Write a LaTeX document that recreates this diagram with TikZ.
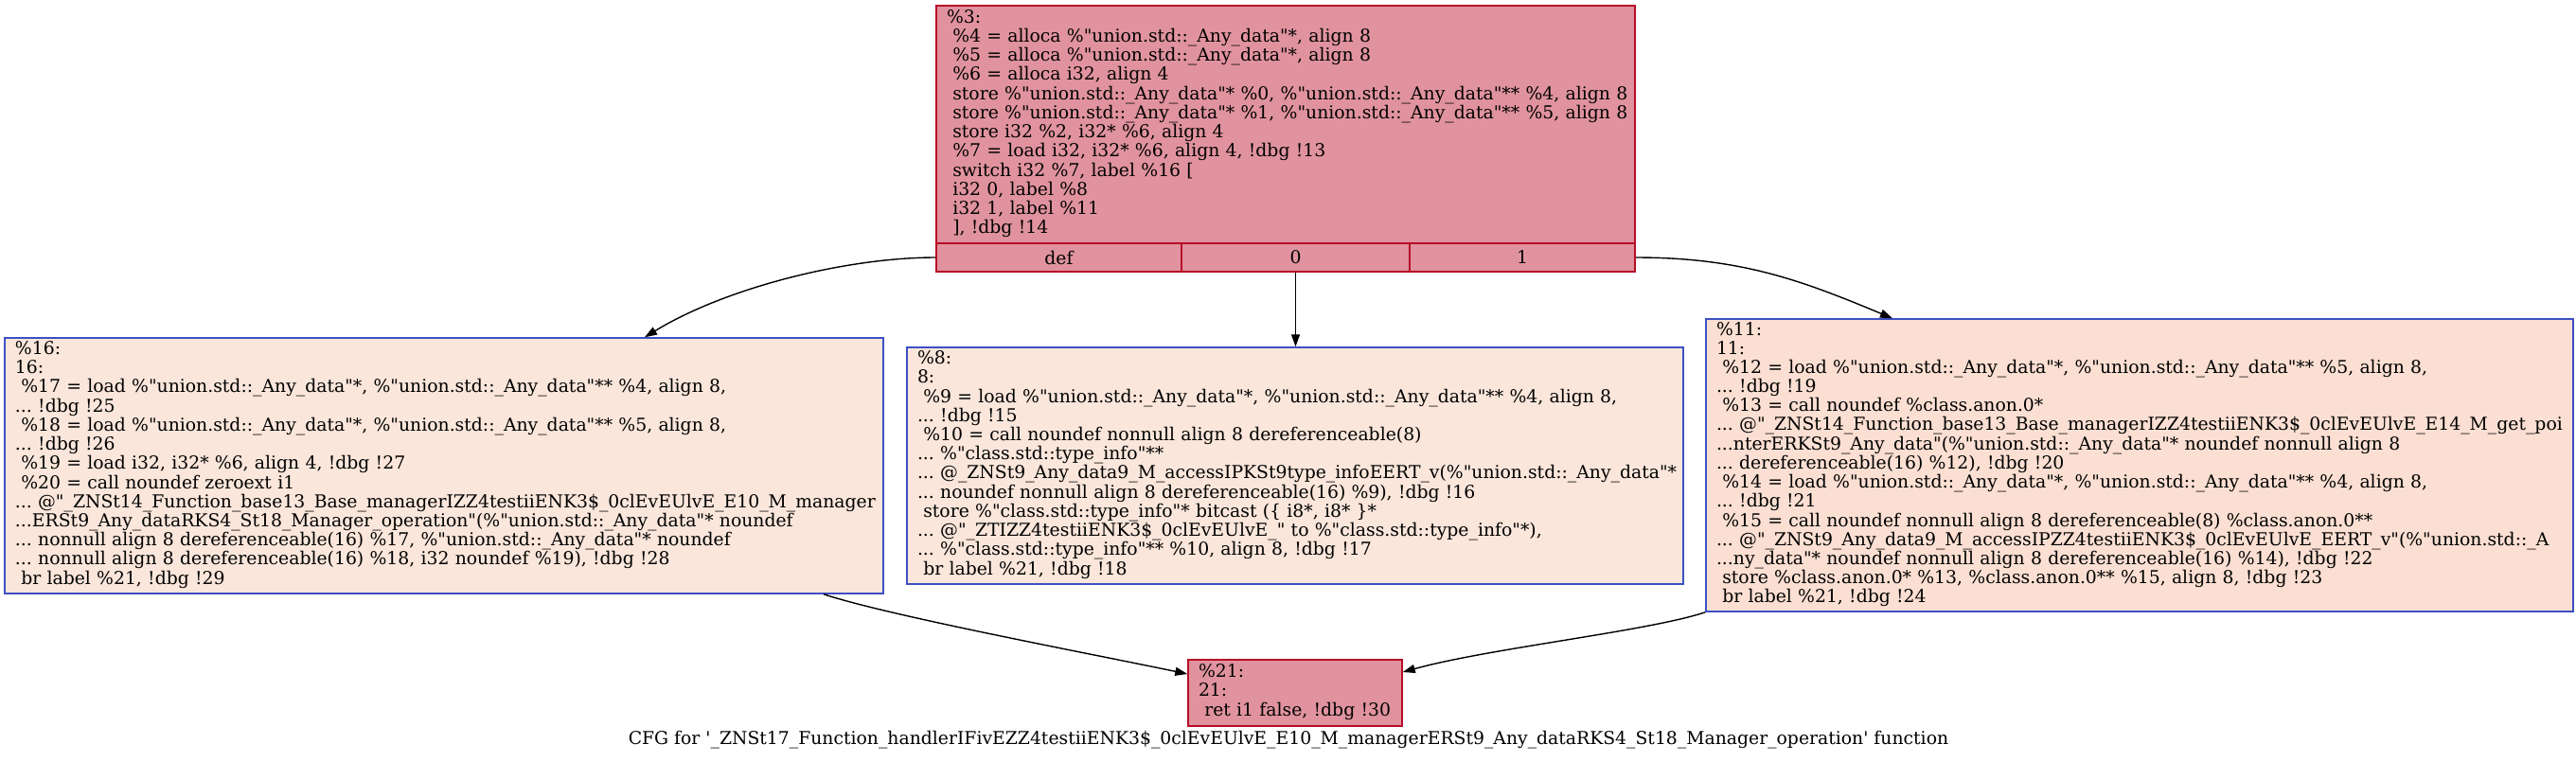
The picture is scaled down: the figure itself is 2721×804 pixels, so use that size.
\documentclass[tikz,border=0pt]{standalone}
\usepackage{fontspec}
\setmainfont{DejaVu Serif}
\usetikzlibrary{arrows.meta}

\definecolor{hotfill}{HTML}{E0939E}
\definecolor{hotline}{HTML}{B70D28}
\definecolor{coolfill}{HTML}{FAE6DB}
\definecolor{warmfill}{HTML}{FBDFD2}
\definecolor{coolline}{HTML}{3D50C3}

\newcommand{\cfgfont}{\fontsize{9.4pt}{9.9pt}\selectfont\frenchspacing}
\newcommand{\cfgtab}[1]{\noindent\begin{tabular}{@{}l@{}}#1\end{tabular}}
\newcommand{\dqt}{\textquotedbl}

\tikzset{
  blk/.style={draw, line width=0.75pt, inner xsep=5.5pt, inner ysep=0pt, align=left, font=\cfgfont},
  hot/.style={blk, fill=hotfill, draw=hotline},
  cool/.style={blk, fill=coolfill, draw=coolline},
  warm/.style={blk, fill=warmfill, draw=coolline},
  fld/.style={hot, align=center, inner xsep=0pt, minimum height=15pt},
  cfg/.style={-{Triangle[length=6.5pt,width=4.5pt]}, line width=0.7pt},
}

\begin{document}
\begin{tikzpicture}[x=0.5pt,y=-0.5pt]
  \useasboundingbox (0,0) rectangle (2721,804);

  \node[hot, text width=358pt, minimum height=125.5pt] (b3) at (1358,131.5) {\cfgtab{%
\%3:\\
\ \%4 = alloca \%\dqt union.std::\_Any\_data\dqt*, align 8\\
\ \%5 = alloca \%\dqt union.std::\_Any\_data\dqt*, align 8\\
\ \%6 = alloca i32, align 4\\
\ store \%\dqt union.std::\_Any\_data\dqt* \%0, \%\dqt union.std::\_Any\_data\dqt** \%4, align 8\\
\ store \%\dqt union.std::\_Any\_data\dqt* \%1, \%\dqt union.std::\_Any\_data\dqt** \%5, align 8\\
\ store i32 \%2, i32* \%6, align 4\\
\ \%7 = load i32, i32* \%6, align 4, !dbg !13\\
\ switch i32 \%7, label \%16 [\\
\ i32 0, label \%8\\
\ i32 1, label \%11\\
\ ], !dbg !14}};
  \node[fld, minimum width=129.5pt] (b3def) at (1118.5,272) {def};
  \node[fld, minimum width=120.5pt] (b3zero) at (1368.5,272) {0};
  \node[fld, minimum width=119pt] (b3one) at (1608,272) {1};

  \node[cool, text width=453pt, minimum height=135pt] (b16) at (469,492) {\cfgtab{%
\%16:\\
16:\\
\ \%17 = load \%\dqt union.std::\_Any\_data\dqt*, \%\dqt union.std::\_Any\_data\dqt** \%4, align 8,\\
... !dbg !25\\
\ \%18 = load \%\dqt union.std::\_Any\_data\dqt*, \%\dqt union.std::\_Any\_data\dqt** \%5, align 8,\\
... !dbg !26\\
\ \%19 = load i32, i32* \%6, align 4, !dbg !27\\
\ \%20 = call noundef zeroext i1\\
... @\dqt\_ZNSt14\_Function\_base13\_Base\_managerIZZ4testiiENK3\$\_0clEvEUlvE\_E10\_M\_manager\\
...ERSt9\_Any\_dataRKS4\_St18\_Manager\_operation\dqt(\%\dqt union.std::\_Any\_data\dqt* noundef\\
... nonnull align 8 dereferenceable(16) \%17, \%\dqt union.std::\_Any\_data\dqt* noundef\\
... nonnull align 8 dereferenceable(16) \%18, i32 noundef \%19), !dbg !28\\
\ br label \%21, !dbg !29}};

  \node[cool, text width=399pt, minimum height=125pt] (b8) at (1368,492) {\cfgtab{%
\%8:\\
8:\\
\ \%9 = load \%\dqt union.std::\_Any\_data\dqt*, \%\dqt union.std::\_Any\_data\dqt** \%4, align 8,\\
... !dbg !15\\
\ \%10 = call noundef nonnull align 8 dereferenceable(8)\\
... \%\dqt class.std::type\_info\dqt**\\
... @\_ZNSt9\_Any\_data9\_M\_accessIPKSt9type\_infoEERT\_v(\%\dqt union.std::\_Any\_data\dqt*\\
... noundef nonnull align 8 dereferenceable(16) \%9), !dbg !16\\
\ store \%\dqt class.std::type\_info\dqt* bitcast (\{ i8*, i8* \}*\\
... @\dqt\_ZTIZZ4testiiENK3\$\_0clEvEUlvE\_\dqt{} to \%\dqt class.std::type\_info\dqt*),\\
... \%\dqt class.std::type\_info\dqt** \%10, align 8, !dbg !17\\
\ br label \%21, !dbg !18}};

  \node[warm, text width=447pt, minimum height=154.5pt] (b11) at (2260,491.5) {\cfgtab{%
\%11:\\
11:\\
\ \%12 = load \%\dqt union.std::\_Any\_data\dqt*, \%\dqt union.std::\_Any\_data\dqt** \%5, align 8,\\
... !dbg !19\\
\ \%13 = call noundef \%class.anon.0*\\
... @\dqt\_ZNSt14\_Function\_base13\_Base\_managerIZZ4testiiENK3\$\_0clEvEUlvE\_E14\_M\_get\_poi\\
...nterERKSt9\_Any\_data\dqt(\%\dqt union.std::\_Any\_data\dqt* noundef nonnull align 8\\
... dereferenceable(16) \%12), !dbg !20\\
\ \%14 = load \%\dqt union.std::\_Any\_data\dqt*, \%\dqt union.std::\_Any\_data\dqt** \%4, align 8,\\
... !dbg !21\\
\ \%15 = call noundef nonnull align 8 dereferenceable(8) \%class.anon.0**\\
... @\dqt\_ZNSt9\_Any\_data9\_M\_accessIPZZ4testiiENK3\$\_0clEvEUlvE\_EERT\_v\dqt(\%\dqt union.std::\_A\\
...ny\_data\dqt* noundef nonnull align 8 dereferenceable(16) \%14), !dbg !22\\
\ store \%class.anon.0* \%13, \%class.anon.0** \%15, align 8, !dbg !23\\
\ br label \%21, !dbg !24}};

  \node[hot, text width=102pt, minimum height=35pt] (b21) at (1368,732) {\cfgtab{%
\%21:\\
21:\\
\ ret i1 false, !dbg !30}};

  \node[font=\cfgfont] (cap) at (1361,782) {CFG for \textquotesingle\_ZNSt17\_Function\_handlerIFivEZZ4testiiENK3\$\_0clEvEUlvE\_E10\_M\_managerERSt9\_Any\_dataRKS4\_St18\_Manager\_operation\textquotesingle{} function};

  \draw[cfg] (b3def.west) .. controls +(-95,0) and +(85,-52) .. ([xshift=106pt]b16.north);
  \draw[cfg] (b3zero.south) -- (b3zero.south |- b8.north);
  \draw[cfg] (b3one.east) .. controls +(113,0) and +(-94,-39) .. ([xshift=-130.5pt]b11.north);
  \draw[cfg] ([xshift=200.5pt]b16.south) .. controls +(70,23) and +(-105,-22) .. ([yshift=10pt]b21.west);
  \draw[cfg] (b11.south west) .. controls +(-60,20) and +(90,-25) .. ([yshift=11pt]b21.east);
\end{tikzpicture}
\end{document}
